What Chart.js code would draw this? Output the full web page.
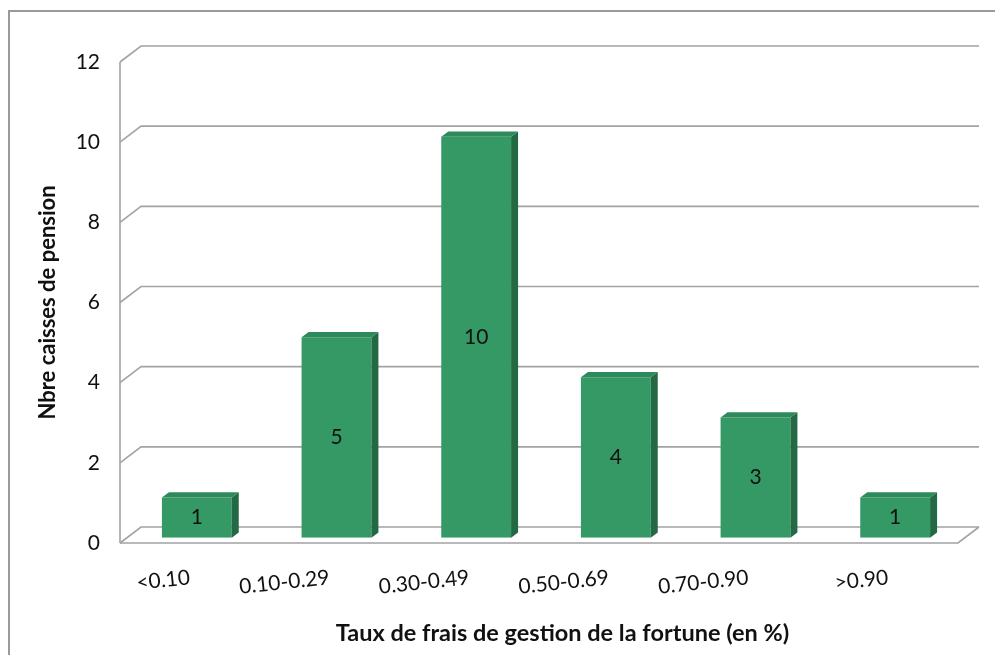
<!DOCTYPE html>
<html>
<head>
<meta charset="utf-8">
<script src="https://cdn.jsdelivr.net/npm/chart.js@4"></script>
<style>
  html, body { margin: 0; padding: 0; background: #fff; overflow: hidden; }
  #frame { position: absolute; left: 8px; top: 10px; width: 1000px; height: 700px; border: 2px solid #9a9a9a; }
  #chart { position: absolute; left: 0; top: 0; }
</style>
</head>
<body>
<div id="frame"></div>
<canvas id="chart" width="995" height="655"></canvas>
<script>
// Chart data
const categories = ['<0.10', '0.10-0.29', '0.30-0.49', '0.50-0.69', '0.70-0.90', '>0.90'];
const counts = [1, 5, 10, 4, 3, 1];
const yTicks = [0, 2, 4, 6, 8, 10, 12];
const xTitle = 'Taux de frais de gestion de la fortune (en %)';
const yTitle = 'Nbre caisses de pension';

// 3D look: wall depth and bar placement inside it
const depth = { dx: 21, dy: -16 };
const barShift = { dx: 7, dy: -5.3 };
const barDepth = { dx: 7, dy: -5.3 };
const gridColor = '#a3a3a3';
const frontColor = '#359966';
const sideColor = '#236a44';
const topColor = '#2e8a5b';
const fontName = 'Lato, "Open Sans", sans-serif';

// Utility
function poly(ctx, pts, fill) {
    ctx.beginPath();
    ctx.moveTo(pts[0][0], pts[0][1]);
    for (let i = 1; i < pts.length; i++) ctx.lineTo(pts[i][0], pts[i][1]);
    ctx.closePath();
    ctx.fillStyle = fill;
    ctx.fill();
}

const threeD = {
    id: 'threeD',
    beforeDatasetsDraw(chart) {
        const ctx = chart.ctx;
        const area = chart.chartArea;
        const y = chart.scales.y;
        ctx.save();
        ctx.strokeStyle = gridColor;
        ctx.lineWidth = 1.6;
        // back wall gridlines
        yTicks.forEach(v => {
            const py = y.getPixelForValue(v);
            ctx.beginPath();
            ctx.moveTo(area.left, py);
            ctx.lineTo(area.left + depth.dx, py + depth.dy);
            ctx.lineTo(area.right + depth.dx, py + depth.dy);
            ctx.stroke();
        });
        // left axis
        ctx.beginPath();
        ctx.moveTo(area.left, y.getPixelForValue(12));
        ctx.lineTo(area.left, y.getPixelForValue(0));
        ctx.stroke();
        // floor front and right edge
        const by = y.getPixelForValue(0);
        ctx.beginPath();
        ctx.moveTo(area.left, by);
        ctx.lineTo(area.right, by);
        ctx.lineTo(area.right + depth.dx, by + depth.dy);
        ctx.stroke();
        ctx.restore();
        // bars drawn shifted into the middle of the depth
        ctx.save();
        ctx.translate(barShift.dx, barShift.dy);
    },
    afterDatasetsDraw(chart) {
        const ctx = chart.ctx;
        ctx.restore();
        const meta = chart.getDatasetMeta(0);
        ctx.save();
        meta.data.forEach((bar, i) => {
            const L = bar.x - bar.width / 2 + barShift.dx;
            const R = bar.x + bar.width / 2 + barShift.dx;
            const T = bar.y + barShift.dy;
            const B = bar.base + barShift.dy;
            poly(ctx, [[R, T], [R + barDepth.dx, T + barDepth.dy], [R + barDepth.dx, B + barDepth.dy], [R, B]], sideColor);
            poly(ctx, [[L, T], [L + barDepth.dx, T + barDepth.dy], [R + barDepth.dx, T + barDepth.dy], [R, T]], topColor);
            ctx.fillStyle = '#111';
            ctx.font = '21px ' + fontName;
            ctx.textAlign = 'center';
            ctx.textBaseline = 'middle';
            ctx.fillText(String(counts[i]), (L + R) / 2, (T + B) / 2);
        });
        // x axis title, centred on the floor
        const area = chart.chartArea;
        ctx.fillStyle = '#111';
        ctx.font = 'bold 23.5px ' + fontName;
        ctx.textAlign = 'center';
        ctx.textBaseline = 'middle';
        ctx.fillText(xTitle, (area.left + area.right + depth.dx) / 2 + 13, 633);
        ctx.restore();
    }
};

new Chart(document.getElementById('chart'), {
    type: 'bar',
    data: {
        labels: categories,
        datasets: [{
            data: counts,
            backgroundColor: frontColor,
            borderWidth: 0,
            categoryPercentage: 1,
            barPercentage: 0.5
        }]
    },
    options: {
        responsive: false,
        animation: false,
        events: [],
        layout: { padding: { left: 0, top: 62, right: 37, bottom: 0 } },
        plugins: { legend: { display: false }, tooltip: { enabled: false } },
        scales: {
            x: {
                grid: { display: false, drawTicks: false },
                border: { display: false },
                ticks: {
                    autoSkip: false,
                    minRotation: 6,
                    maxRotation: 6,
                    padding: 22,
                    color: '#111',
                    font: { family: fontName, size: 21 }
                },
                afterFit(scale) { scale.height = 112; }
            },
            y: {
                min: 0,
                max: 12,
                grid: { display: false, drawTicks: false },
                border: { display: false },
                ticks: {
                    stepSize: 2,
                    padding: 20,
                    color: '#111',
                    font: { family: fontName, size: 21 }
                },
                title: {
                    display: true,
                    text: yTitle,
                    color: '#111',
                    padding: 35,
                    font: { family: fontName, size: 22, weight: 'bold' }
                },
                afterFit(scale) { scale.width = 120; }
            }
        }
    },
    plugins: [threeD]
});
</script>
</body>
</html>
